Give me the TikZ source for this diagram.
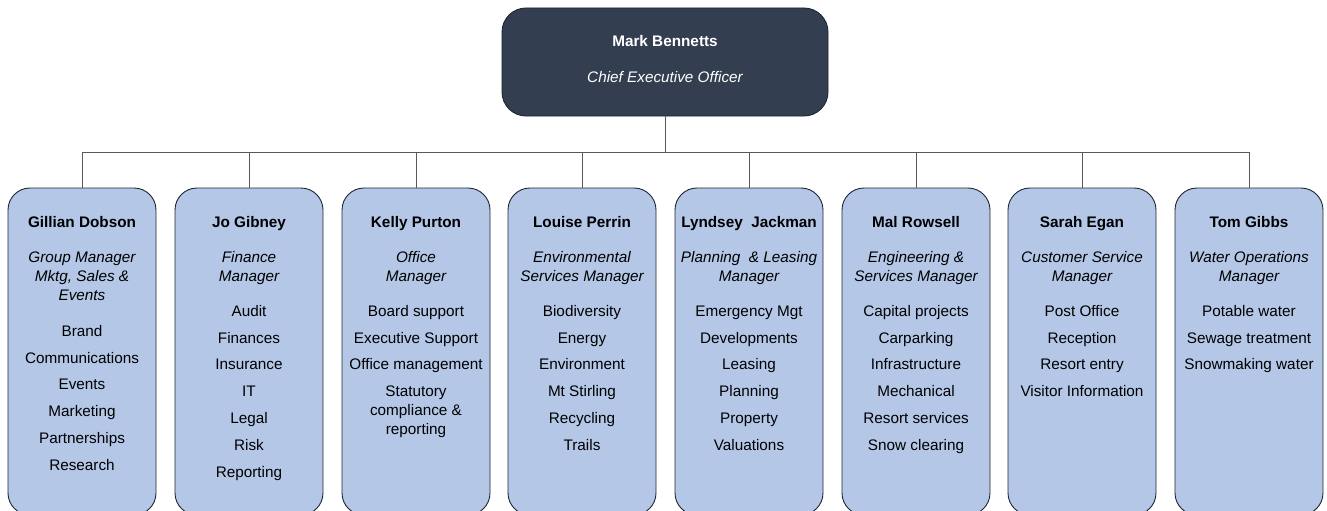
\documentclass[tikz,border=0pt]{standalone}
\usepackage{fontspec}
\setmainfont{Liberation Sans}
\begin{document}
\definecolor{ceofill}{HTML}{333F50}
\definecolor{unitfill}{HTML}{B4C7E7}
\definecolor{edge}{HTML}{1E2633}
\definecolor{wire}{HTML}{595959}
\begin{tikzpicture}[x=1pt,y=-1pt,
  ceobox/.style={draw=edge, line width=0.9pt, fill=ceofill, rounded corners=24pt,
    minimum width=326pt, minimum height=108pt, inner sep=0pt},
  unitbox/.style={draw=edge, line width=0.9pt, fill=unitfill, rounded corners=22pt,
    minimum width=148pt, minimum height=327pt, inner sep=0pt},
  unittext/.style={anchor=north, inner sep=0pt, align=center,
    font=\fontsize{15.3}{19}\selectfont},
  ceotext/.style={inner sep=0pt, text=white, font=\fontsize{15.3}{19}\selectfont},
  wireline/.style={draw=wire, line width=0.9pt}]
\useasboundingbox (0,0) rectangle (1327,511);

% chief executive
\node[ceobox] (ceo) at (665,62) {};
\node[ceotext] (ceoname) at (665,41) {\bfseries Mark Bennetts};
\node[ceotext] (ceorole) at (665,77) {\itshape Chief Executive Officer};

% managers
\begin{scope}
\clip (0,0) rectangle (1327,511);
\node[unitbox] (u1) at (82,351.5) {};
\node[unitbox] (u2) at (249,351.5) {};
\node[unitbox] (u3) at (416,351.5) {};
\node[unitbox] (u4) at (582,351.5) {};
\node[unitbox] (u5) at (749,351.5) {};
\node[unitbox] (u6) at (916,351.5) {};
\node[unitbox] (u7) at (1082,351.5) {};
\node[unitbox] (u8) at (1249,351.5) {};
\end{scope}

% reporting lines
\coordinate (bus) at (665,152);
\draw[wireline] (ceo.south) -- (bus);
\foreach \u in {u1,u2,u3,u4,u5,u6,u7,u8}
  \draw[wireline] (\u.north) |- (bus);

% box contents
\node[unittext] (t1) at (82,216) {\bfseries Gillian Dobson\\[16pt]
  \itshape Group Manager\\ \itshape Mktg, Sales \&\\ \itshape Events\\[17pt]
  Brand\\[7.8pt] Communications\\[7.8pt] Events\\[7.8pt] Marketing\\[7.8pt]
  Partnerships\\[7.8pt] Research};
\node[unittext] (t2) at (249,216) {\bfseries Jo Gibney\\[16pt]
  \itshape Finance\\ \itshape Manager\\[16pt]
  Audit\\[7.8pt] Finances\\[7.8pt] Insurance\\[7.8pt] IT\\[7.8pt]
  Legal\\[7.8pt] Risk\\[7.8pt] Reporting};
\node[unittext] (t3) at (416,216) {\bfseries Kelly Purton\\[16pt]
  \itshape Office\\ \itshape Manager\\[16pt]
  Board support\\[7.8pt] Executive Support\\[7.8pt] Office management\\[7.8pt]
  Statutory\\ compliance \&\\ reporting};
\node[unittext] (t4) at (582,216) {\bfseries Louise Perrin\\[16pt]
  \itshape Environmental\\ \itshape Services Manager\\[16pt]
  Biodiversity\\[7.8pt] Energy\\[7.8pt] Environment\\[7.8pt] Mt Stirling\\[7.8pt]
  Recycling\\[7.8pt] Trails};
\node[unittext] (t5) at (749,216) {\bfseries Lyndsey\ \ Jackman\\[16pt]
  \itshape Planning\ \ \& Leasing\\ \itshape Manager\\[16pt]
  Emergency Mgt\\[7.8pt] Developments\\[7.8pt] Leasing\\[7.8pt] Planning\\[7.8pt]
  Property\\[7.8pt] Valuations};
\node[unittext] (t6) at (916,216) {\bfseries Mal Rowsell\\[16pt]
  \itshape Engineering \&\\ \itshape Services Manager\\[16pt]
  Capital projects\\[7.8pt] Carparking\\[7.8pt] Infrastructure\\[7.8pt] Mechanical\\[7.8pt]
  Resort services\\[7.8pt] Snow clearing};
\node[unittext] (t7) at (1082,216) {\bfseries Sarah Egan\\[16pt]
  \itshape Customer Service\\ \itshape Manager\\[16pt]
  Post Office\\[7.8pt] Reception\\[7.8pt] Resort entry\\[7.8pt] Visitor Information};
\node[unittext] (t8) at (1249,216) {\bfseries Tom Gibbs\\[16pt]
  \itshape Water Operations\\ \itshape Manager\\[16pt]
  Potable water\\[7.8pt] Sewage treatment\\[7.8pt] Snowmaking water};
\end{tikzpicture}
\end{document}
